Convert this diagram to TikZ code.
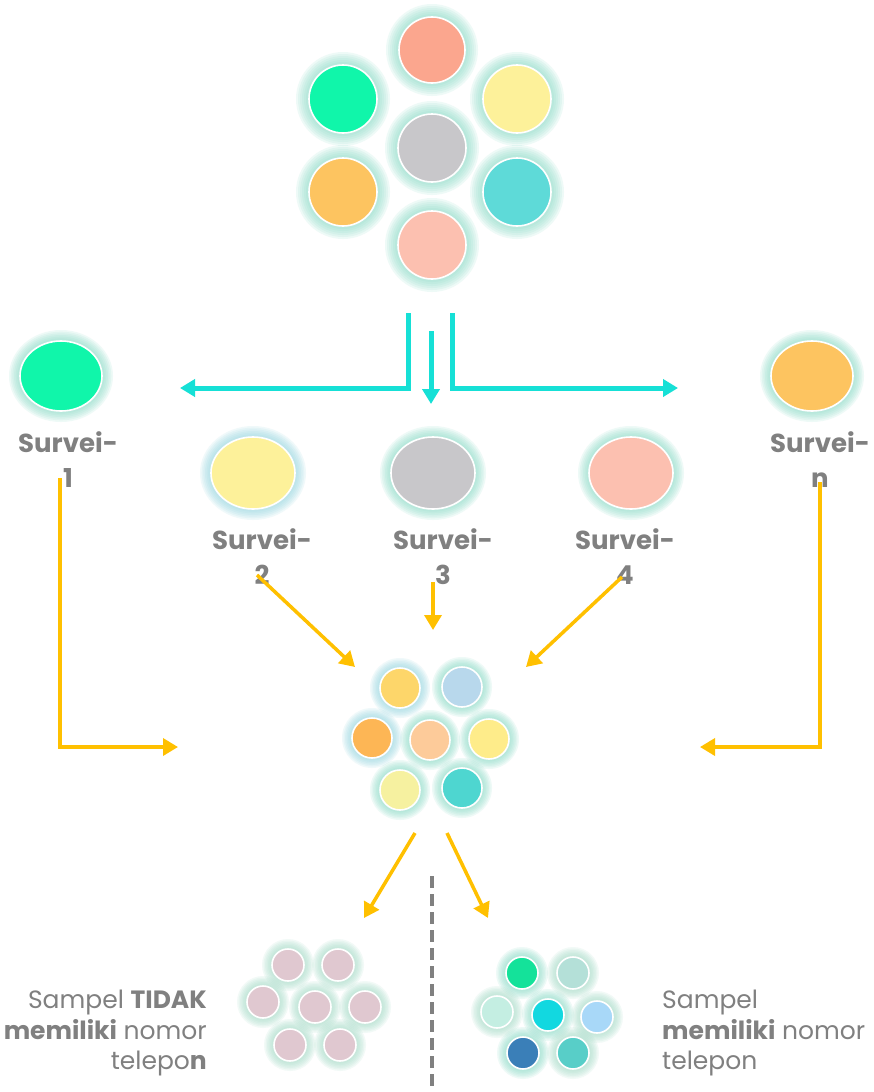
\documentclass[tikz,border=0pt]{standalone}
\usepackage{fontspec}
\setmainfont{Poppins}
\usetikzlibrary{arrows.meta,shapes.geometric}
\definecolor{cyanA}{RGB}{22,224,214}
\definecolor{goldA}{RGB}{255,192,0}
\definecolor{txtgray}{RGB}{128,128,128}
\definecolor{glowT}{RGB}{140,220,200}
\definecolor{glowB}{RGB}{150,215,225}
\definecolor{glowP}{RGB}{165,220,200}
\definecolor{cSalmon}{RGB}{251,166,142}
\definecolor{cGreen}{RGB}{16,246,170}
\definecolor{cYellow}{RGB}{253,241,154}
\definecolor{cGray}{RGB}{200,199,202}
\definecolor{cOrange}{RGB}{253,196,96}
\definecolor{cTeal}{RGB}{94,218,216}
\definecolor{cPink}{RGB}{252,192,176}
\definecolor{mYellow}{RGB}{253,214,106}
\definecolor{mBlue}{RGB}{184,216,236}
\definecolor{mOrange}{RGB}{253,182,85}
\definecolor{mPeach}{RGB}{253,203,154}
\definecolor{mYellow2}{RGB}{254,236,138}
\definecolor{mPale}{RGB}{246,241,160}
\definecolor{mTeal}{RGB}{78,214,208}
\definecolor{bPink}{RGB}{224,200,208}
\definecolor{rGreen}{RGB}{20,226,154}
\definecolor{rPaleT}{RGB}{180,224,216}
\definecolor{rPale}{RGB}{196,238,226}
\definecolor{rCyan}{RGB}{18,216,224}
\definecolor{rLBlue}{RGB}{168,216,248}
\definecolor{rDark}{RGB}{58,127,184}
\definecolor{rTeal}{RGB}{88,206,200}
\tikzset{
  orbst/.style={ellipse, draw=white, line width=1.6pt, inner sep=0pt},
  cyanarrow/.style={draw=cyanA, line width=5pt, -{Triangle[length=15pt,width=17pt]}},
  goldarrow/.style={draw=goldA, line width=3.5pt, -{Triangle[length=15pt,width=17pt]}},
  lbl/.style={font=\bfseries\fontsize{26}{35}\selectfont, text=txtgray, align=center, inner sep=0pt},
  note/.style={font=\fontsize{25}{30.5}\selectfont, text=txtgray, inner sep=0pt},
  divider/.style={draw=txtgray, line width=3.5pt, dash pattern=on 12pt off 6pt}
}
% name, x, y, rx, ry, fill colour, glow width, glow colour
\newcommand\orb[8]{%
  \foreach \k in {1,...,6}{%
    \pgfmathsetmacro\grx{#4+1+#7*\k/6}%
    \pgfmathsetmacro\gry{#5+1+#7*\k/6}%
    \fill[#8, opacity=0.14] (#2,#3) ellipse [x radius=\grx pt, y radius=\gry pt];
  }%
  \node[orbst, fill=#6, minimum width=2*#4 pt, minimum height=2*#5 pt] (#1) at (#2,#3) {};
}
\begin{document}
\begin{tikzpicture}[x=1pt,y=-1pt]
\useasboundingbox[fill=white] (0,0) rectangle (874,1092);
% top cluster
\orb{tSalmon}{432}{50}{33}{33}{cSalmon}{12}{glowT}
\orb{tGreen}{343}{99}{34}{34}{cGreen}{12}{glowT}
\orb{tYellow}{517}{99}{34}{34}{cYellow}{12}{glowT}
\orb{tGray}{432}{148}{34}{34}{cGray}{12}{glowT}
\orb{tOrange}{343}{192}{34}{34}{cOrange}{12}{glowT}
\orb{tTeal}{517}{192}{34}{34}{cTeal}{12}{glowT}
\orb{tPink}{432}{245}{34}{34}{cPink}{12}{glowT}
% cyan split arrows
\coordinate (cl0) at (408,313);
\coordinate (cl1) at (408,388);
\coordinate (cl2) at (180,388);
\coordinate (cm0) at (431,331);
\coordinate (cm1) at (431,404);
\coordinate (cr0) at (452,313);
\coordinate (cr1) at (452,388);
\coordinate (cr2) at (678,388);
\draw[cyanarrow] (cl0) -- (cl1) -- (cl2);
\draw[cyanarrow] (cm0) -- (cm1);
\draw[cyanarrow] (cr0) -- (cr1) -- (cr2);
% surveys
\orb{s1}{61}{376}{41}{35}{cGreen}{10}{glowT}
\orb{s2}{253}{473}{42}{36}{cYellow}{10}{glowB}
\orb{s3}{433}{473}{42}{36}{cGray}{10}{glowT}
\orb{s4}{631}{473}{42}{36}{cPink}{10}{glowT}
\orb{sn}{812}{376}{41}{35}{cOrange}{10}{glowT}
\node[lbl] (s1l) at (68,460) {Survei-\\1};
\node[lbl] (s2l) at (262,557) {Survei-\\2};
\node[lbl] (s3l) at (443,557) {Survei-\\3};
\node[lbl] (s4l) at (625,557) {Survei-\\4};
\node[lbl] (snl) at (820,460) {Survei-\\n};
% middle cluster
\orb{m1}{400}{688}{20}{20}{mYellow}{9}{glowB}
\orb{m2}{462}{687}{20}{20}{mBlue}{9}{glowT}
\orb{m3}{372}{738}{20}{20}{mOrange}{9}{glowB}
\orb{m4}{430}{740}{20}{20}{mPeach}{9}{glowT}
\orb{m5}{489}{739}{20}{20}{mYellow2}{9}{glowT}
\orb{m6}{400}{790}{20}{20}{mPale}{9}{glowT}
\orb{m7}{462}{788}{20}{20}{mTeal}{9}{glowT}
% gold arrows into the middle cluster
\coordinate (g1a) at (60,478);
\coordinate (g1b) at (60,747);
\coordinate (g1c) at (178,747);
\coordinate (gna) at (820,482);
\coordinate (gnb) at (820,747);
\coordinate (gnc) at (700,747);
\coordinate (g2a) at (257,575);
\coordinate (g2b) at (355,667);
\coordinate (g3a) at (433,582);
\coordinate (g3b) at (433,630);
\coordinate (g4a) at (622,577);
\coordinate (g4b) at (526,667);
\draw[goldarrow] (g1a) -- (g1b) -- (g1c);
\draw[goldarrow] (gna) -- (gnb) -- (gnc);
\draw[goldarrow] (g2a) -- (g2b);
\draw[goldarrow] (g3a) -- (g3b);
\draw[goldarrow] (g4a) -- (g4b);
% gold arrows out of the middle cluster
\coordinate (oLa) at (415,833);
\coordinate (oLb) at (364,918);
\coordinate (oRa) at (447,833);
\coordinate (oRb) at (488,918);
\draw[goldarrow] (oLa) -- (oLb);
\draw[goldarrow] (oRa) -- (oRb);
% divider
\coordinate (dv0) at (432,876);
\coordinate (dv1) at (432,1092);
\draw[divider] (dv0) -- (dv1);
% bottom-left cluster
\orb{bl1}{288}{965}{16}{16}{bPink}{9}{glowP}
\orb{bl2}{338}{965}{16}{16}{bPink}{9}{glowP}
\orb{bl3}{263}{1002}{16}{16}{bPink}{9}{glowP}
\orb{bl4}{315}{1007}{16}{16}{bPink}{9}{glowP}
\orb{bl5}{365}{1007}{16}{16}{bPink}{9}{glowP}
\orb{bl6}{290}{1045}{16}{16}{bPink}{9}{glowP}
\orb{bl7}{340}{1045}{16}{16}{bPink}{9}{glowP}
% bottom-right cluster
\orb{br1}{522}{973}{16}{16}{rGreen}{9}{glowT}
\orb{br2}{573}{973}{16}{16}{rPaleT}{9}{glowP}
\orb{br3}{497}{1012}{16}{16}{rPale}{9}{glowP}
\orb{br4}{548}{1015}{16}{16}{rCyan}{9}{glowT}
\orb{br5}{597}{1017}{16}{16}{rLBlue}{9}{glowP}
\orb{br6}{523}{1053}{16}{16}{rDark}{9}{glowT}
\orb{br7}{573}{1053}{16}{16}{rTeal}{9}{glowP}
% notes
\node[note, align=right, anchor=east] (nL) at (207,1033) {Sampel \textbf{TIDAK}\\\textbf{memiliki} nomor\\telepo\textbf{n}};
\node[note, align=left, anchor=west] (nR) at (662,1033) {Sampel\\\textbf{memiliki} nomor\\telepon};
\end{tikzpicture}
\end{document}
